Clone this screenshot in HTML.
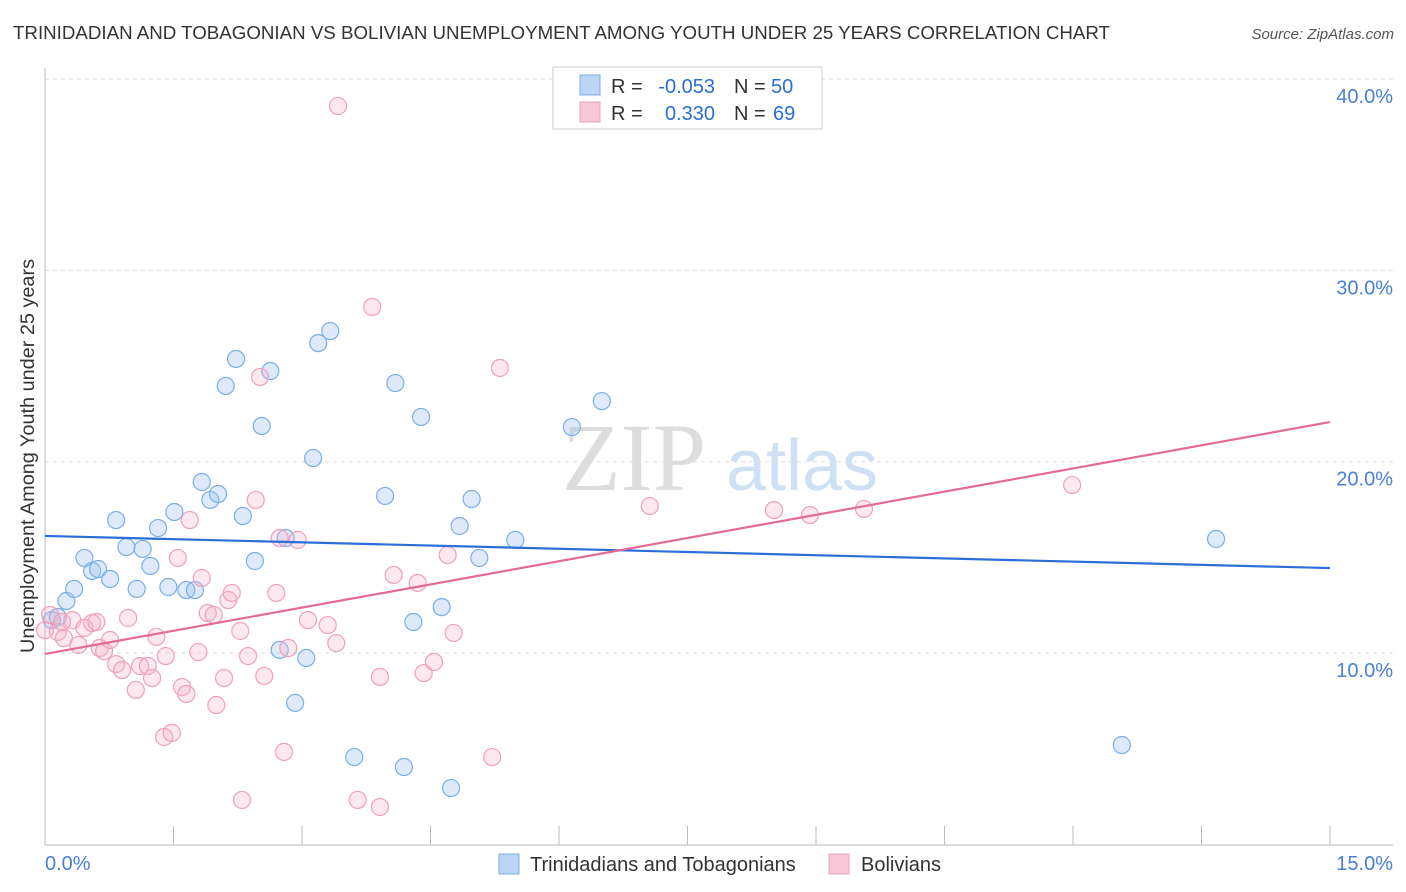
<!DOCTYPE html>
<html><head><meta charset="utf-8"><style>
body{margin:0;background:#fff;font-family:"Liberation Sans",sans-serif}
svg{display:block}
</style></head><body>
<svg id="c" width="1406" height="892">
<text x="13" y="39" font-size="18.5" fill="#333" textLength="1097" lengthAdjust="spacingAndGlyphs">TRINIDADIAN AND TOBAGONIAN VS BOLIVIAN UNEMPLOYMENT AMONG YOUTH UNDER 25 YEARS CORRELATION CHART</text>
<text x="1394" y="39" font-size="15" fill="#555" font-style="italic" text-anchor="end">Source: ZipAtlas.com</text>
<text x="634" y="490" font-size="96" fill="#ddd" font-family="Liberation Serif,serif" text-anchor="middle">ZIP</text>
<text x="802" y="490" font-size="72" fill="#cfe0f5" text-anchor="middle">atlas</text>
<g id="grid"></g><g id="pts"></g><g id="lines"></g>
<text transform="translate(34,456) rotate(-90)" font-size="19" fill="#333" text-anchor="middle" textLength="394" lengthAdjust="spacingAndGlyphs">Unemployment Among Youth under 25 years</text>
<text x="45" y="870" font-size="20" fill="#4a7fd4">0.0%</text>
<text x="1393" y="870" font-size="20" fill="#4a7fd4" text-anchor="end">15.0%</text>
<g>
<rect x="553" y="67" width="269" height="62" fill="#fff" stroke="#ccc"/>
<rect x="580" y="75" width="20" height="20" fill="#bcd5f5" stroke="#7aaee8"/>
<rect x="580" y="102" width="20" height="20" fill="#f9c8d8" stroke="#f0a0ba"/>
<text x="611" y="93" font-size="20" fill="#333">R =</text>
<text x="715" y="93" font-size="20" fill="#2a6fd6" text-anchor="end">-0.053</text>
<text x="734" y="93" font-size="20" fill="#333">N =</text>
<text x="771" y="93" font-size="20" fill="#2a6fd6">50</text>
<text x="611" y="120" font-size="20" fill="#333">R =</text>
<text x="715" y="120" font-size="20" fill="#2a6fd6" text-anchor="end">0.330</text>
<text x="734" y="120" font-size="20" fill="#333">N =</text>
<text x="773" y="120" font-size="20" fill="#2a6fd6">69</text>
</g>
<g>
<rect x="499" y="854" width="20" height="20" fill="#bcd5f5" stroke="#7aaee8"/>
<text x="530" y="871" font-size="20" fill="#333">Trinidadians and Tobagonians</text>
<rect x="829" y="854" width="20" height="20" fill="#f9c8d8" stroke="#f0a0ba"/>
<text x="861" y="871" font-size="20" fill="#333">Bolivians</text>
</g>
</svg>
<script>
const yTicks=[10,20,30,40];
const yTickLabels=["10.0%","20.0%","30.0%","40.0%"];
const xTicks=[0,1.5,3,4.5,6,7.5,9,10.5,12,13.5,15];
const blueX=[0.08,0.15,0.25,0.34,0.46,0.55,0.62,0.76,0.83,0.95,1.07,1.14,1.23,1.32,1.44,1.51,1.65,1.75,1.83,1.93,2.02,2.11,2.23,2.31,2.45,2.53,2.63,2.74,2.81,2.92,3.05,3.13,3.19,3.33,3.61,3.97,4.09,4.19,4.30,4.39,4.63,4.74,4.84,4.98,5.07,5.49,6.15,6.50,12.57,13.67];
const blueY=[11.72,11.88,12.72,13.35,14.97,14.29,14.39,13.87,16.95,15.54,13.35,15.44,14.55,16.53,13.45,17.37,13.29,13.29,18.94,18.0,18.31,23.96,25.37,17.16,14.81,21.87,24.74,10.16,16.01,7.39,9.74,20.19,26.2,26.83,4.56,18.21,24.11,4.04,11.62,22.34,12.40,2.94,16.64,18.05,14.97,15.91,21.81,23.17,5.19,15.96];
const pinkX=[0.06,0.0,0.15,0.20,0.22,0.32,0.39,0.46,0.55,0.60,0.64,0.69,0.76,0.83,0.90,0.97,1.06,1.11,1.20,1.25,1.30,1.39,1.41,1.48,1.55,1.60,1.65,1.69,1.79,1.83,1.90,1.97,2.0,2.09,2.14,2.18,2.28,2.30,2.37,2.46,2.51,2.56,2.70,2.74,2.79,2.84,2.95,3.07,3.30,3.40,3.42,3.65,3.82,3.91,3.91,4.07,4.35,4.42,4.54,4.70,4.77,5.22,5.31,7.06,8.51,8.93,9.56,11.99];
const pinkY=[11.99,11.2,11.10,11.62,10.78,11.72,10.42,11.31,11.57,11.62,10.26,10.10,10.68,9.42,9.11,11.83,8.07,9.32,9.32,8.69,10.84,5.61,9.84,5.82,14.97,8.22,7.86,16.95,10.05,13.92,12.09,11.99,7.28,8.69,12.77,13.14,11.15,2.32,9.84,18.0,24.43,8.80,13.14,16.01,4.83,10.26,15.91,11.72,11.46,10.52,38.59,2.32,28.09,1.95,8.75,14.08,13.66,8.95,9.53,15.12,11.05,4.56,24.90,17.68,17.47,17.21,17.53,18.78];
const blueTrend=[16.12,14.44];
const pinkTrend=[9.95,22.07];
const NS="http://www.w3.org/2000/svg";
const sx=v=>45+v/15*1285, sy=v=>653-(v-10)*19.13;
function mk(tag,at,par){const e=document.createElementNS(NS,tag);for(const k in at)e.setAttribute(k,at[k]);document.getElementById(par).appendChild(e);return e;}
yTicks.forEach((t,i)=>{
 const g=mk('line',{x1:45,x2:1393,y1:sy(t),y2:sy(t),stroke:'#ddd','stroke-dasharray':'4,4'},'grid');
 
 
 const tx=mk('text',{x:1393,y:sy(t)+24,'font-size':20,fill:'#4a7fd4','text-anchor':'end'},'grid');
 tx.textContent=yTickLabels[i];
 
 
});
const ax=mk('line',{x1:45,x2:45,y1:68,y2:845,stroke:'#bbb'},'grid');


const bx=mk('line',{x1:45,x2:1393,y1:845,y2:845,stroke:'#bbb'},'grid');


xTicks.forEach(t=>{
 const l=mk('line',{x1:sx(t),x2:sx(t),y1:826,y2:845,stroke:'#bbb'},'grid');
 
 
});
function pts(X,Y,fill,stroke,name){X.forEach((x,i)=>{
 const c=mk('circle',{cx:sx(x),cy:sy(Y[i]),r:8.5,fill:fill,stroke:stroke,'stroke-width':1.2},'pts');
 
 
});}
pts(blueX,blueY,'rgba(160,196,240,0.35)','#7aaee8','trinidadian-point');
pts(pinkX,pinkY,'rgba(245,180,200,0.3)','#f0a0ba','bolivian-point');
const bl=mk('line',{x1:sx(0),x2:sx(15),y1:sy(blueTrend[0]),y2:sy(blueTrend[1]),stroke:'#2a6fd6','stroke-width':2.2},'lines');


const pl=mk('line',{x1:sx(0),x2:sx(15),y1:sy(pinkTrend[0]),y2:sy(pinkTrend[1]),stroke:'#e36b95','stroke-width':2.2},'lines');


</script>
</body></html>
